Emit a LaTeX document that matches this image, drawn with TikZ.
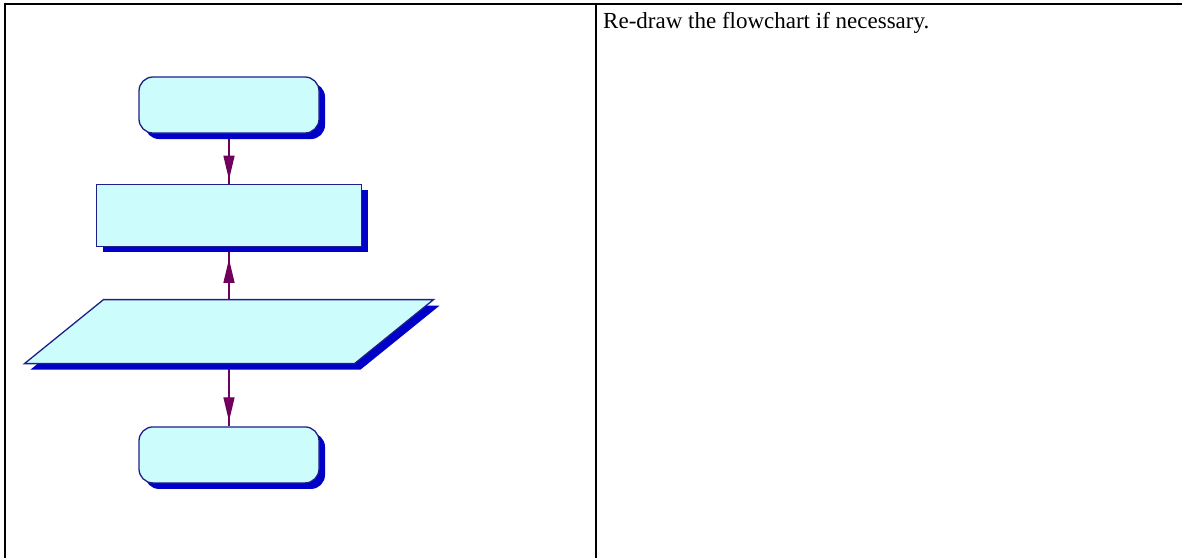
\documentclass[tikz,border=0pt]{standalone}
\usepackage{fontspec}
\setmainfont{Liberation Serif}
\usepackage{tikz}
\usetikzlibrary{arrows.meta,positioning,shapes.geometric,shadows,backgrounds,decorations.markings}
\definecolor{paleCyan}{RGB}{204,252,252}
\definecolor{edgeBlue}{RGB}{30,30,140}
\definecolor{shadeBlue}{RGB}{0,0,200}
\definecolor{plum}{RGB}{112,0,92}
\tikzset{
  rule/.style={draw=black, line width=2pt},
  boxshadow/.style={drop shadow={shadow xshift=6pt, shadow yshift=-6pt, fill=shadeBlue, opacity=1}},
  startstop/.style={draw=edgeBlue, fill=paleCyan, line width=1.3pt, rounded corners=14pt,
                    minimum width=180pt, minimum height=56pt, inner sep=0pt, boxshadow},
  proc/.style={draw=edgeBlue, fill=paleCyan, line width=1.3pt,
               minimum width=265pt, minimum height=62pt, inner sep=0pt, boxshadow},
  inout/.style={trapezium, trapezium left angle=39, trapezium right angle=141,
                draw=edgeBlue, fill=paleCyan, line width=1.3pt,
                inner xsep=125.5pt, inner ysep=32pt, boxshadow},
  flow/.style={color=plum, line width=1.4pt, postaction={decorate},
               decoration={markings, mark=at position #1 with {\arrow{Triangle[width=11pt,length=24pt]}}}},
  flow/.default=-4pt
}
\begin{document}
\begin{tikzpicture}[x=1pt, y=-1pt]
  \useasboundingbox (0,0) rectangle (1182,558);
  % table lines
  \draw[rule] (4,3.5) -- (1182,3.5);
  \draw[rule] (5,2.5) -- (5,558);
  \draw[rule] (596,2.5) -- (596,558);
  \node[anchor=base west, inner sep=0pt, font=\fontsize{23}{28}\selectfont] (note) at (603,28) {Re-draw the flowchart if necessary.};
  % flowchart
  \node[startstop] (start) at (229,105) {};
  \node[proc, below=50pt of start] (step1) {};
  \node[inout, below=52pt of step1] (io) {};
  \node[startstop, below=62pt of io] (stop) {};
  \begin{scope}[on background layer]
    \draw[flow] (start) -- (step1);
    \draw[flow=-12pt] (io) -- (step1);
    \draw[flow=-5pt] (io) -- (stop);
  \end{scope}
\end{tikzpicture}
\end{document}
